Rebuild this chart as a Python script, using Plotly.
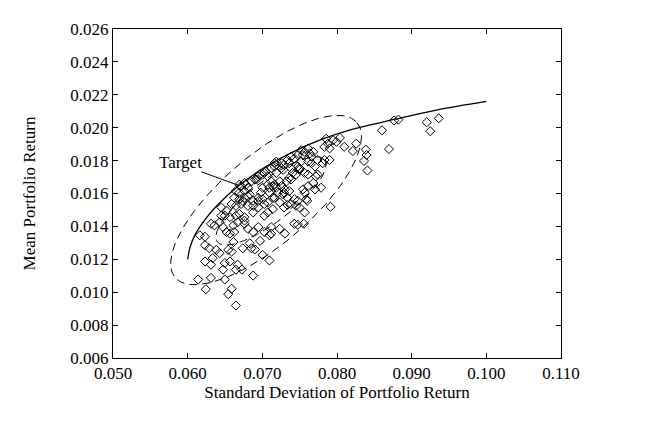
import numpy as np
import plotly.graph_objects as go

# Scatter of sampled portfolios (std dev, mean return)
sd = [0.09363, 0.09202, 0.09248, 0.08603, 0.08765, 0.08822, 0.08696, 0.08258, 0.08212, 0.08385,
      0.08396, 0.08362, 0.08408, 0.07855, 0.07947, 0.08039, 0.07993, 0.08097, 0.07878, 0.07832,
      0.07901, 0.07521, 0.07567, 0.07613, 0.07544, 0.07475, 0.07636, 0.07659, 0.07429, 0.07383,
      0.07337, 0.07360, 0.07291, 0.07256, 0.07164, 0.07118, 0.07187, 0.07279, 0.07406, 0.07498,
      0.07475, 0.07659, 0.07613, 0.07740, 0.07809, 0.07832, 0.07901, 0.07740, 0.07705, 0.07072,
      0.07682, 0.07613, 0.07682, 0.07705, 0.07590, 0.07567, 0.07475, 0.07498, 0.07383, 0.07337,
      0.07360, 0.07291, 0.07256, 0.07233, 0.07326, 0.07383, 0.07452, 0.07118, 0.07164, 0.07095,
      0.07210, 0.07164, 0.07233, 0.07291, 0.06980, 0.07003, 0.07072, 0.06946, 0.06923, 0.06969,
      0.07026, 0.07256, 0.06854, 0.06784, 0.06715, 0.06761, 0.06692, 0.06807, 0.06738, 0.06877,
      0.06692, 0.06761, 0.06807, 0.06646, 0.06623, 0.06692, 0.06761, 0.06831, 0.06900, 0.06946,
      0.07003, 0.07049, 0.07164, 0.07187, 0.06589, 0.06646, 0.06715, 0.06807, 0.06877, 0.06946,
      0.07026, 0.07003, 0.07072, 0.07095, 0.07141, 0.06520, 0.06451, 0.06566, 0.06646, 0.06761,
      0.07072, 0.07141, 0.06451, 0.06497, 0.06428, 0.06359, 0.06312, 0.06474, 0.06612, 0.06669,
      0.06761, 0.06520, 0.06566, 0.06623, 0.06163, 0.06232, 0.06612, 0.06232, 0.06289, 0.06382,
      0.06428, 0.06543, 0.06589, 0.06738, 0.06232, 0.06335, 0.06312, 0.06497, 0.06474, 0.06566,
      0.06669, 0.06646, 0.06497, 0.06312, 0.06140, 0.06243, 0.06543, 0.06589, 0.06646, 0.06727,
      0.06877, 0.06831, 0.06900, 0.06969, 0.07003, 0.07095, 0.07026, 0.06877, 0.07118, 0.07095,
      0.07233, 0.07303, 0.07429, 0.07475, 0.07556, 0.07567, 0.07602, 0.07913, 0.06946, 0.07337,
      0.07452, 0.06692, 0.06761, 0.06807, 0.06877, 0.06946, 0.07026, 0.07118, 0.06854, 0.07786,
      0.07717, 0.07613, 0.07544, 0.07429, 0.07279, 0.07303, 0.07187, 0.07141, 0.07360, 0.07498,
      0.07567, 0.07383, 0.07521]
mean = [0.02057, 0.02033, 0.01979, 0.01984, 0.02044, 0.02049, 0.01870, 0.01903, 0.01858, 0.01867,
        0.01834, 0.01798, 0.01740, 0.01933, 0.01924, 0.01938, 0.01914, 0.01884, 0.01903, 0.01884,
        0.01874, 0.01863, 0.01853, 0.01874, 0.01834, 0.01834, 0.01844, 0.01824, 0.01813, 0.01824,
        0.01804, 0.01784, 0.01774, 0.01754, 0.01784, 0.01754, 0.01725, 0.01744, 0.01725, 0.01744,
        0.01764, 0.01784, 0.01794, 0.01804, 0.01784, 0.01804, 0.01804, 0.01715, 0.01764, 0.01704,
        0.01853, 0.01715, 0.01664, 0.01625, 0.01565, 0.01605, 0.01555, 0.01515, 0.01536, 0.01574,
        0.01615, 0.01605, 0.01645, 0.01674, 0.01674, 0.01685, 0.01715, 0.01674, 0.01654, 0.01635,
        0.01605, 0.01574, 0.01545, 0.01515, 0.01605, 0.01565, 0.01545, 0.01574, 0.01685, 0.01715,
        0.01725, 0.01784, 0.01674, 0.01654, 0.01645, 0.01615, 0.01605, 0.01584, 0.01555, 0.01525,
        0.01654, 0.01664, 0.01635, 0.01615, 0.01574, 0.01565, 0.01574, 0.01595, 0.01685, 0.01704,
        0.01715, 0.01734, 0.01764, 0.01794, 0.01536, 0.01525, 0.01536, 0.01525, 0.01555, 0.01555,
        0.01536, 0.01635, 0.01654, 0.01605, 0.01574, 0.01496, 0.01465, 0.01456, 0.01465, 0.01456,
        0.01485, 0.01505, 0.01515, 0.01465, 0.01425, 0.01406, 0.01416, 0.01396, 0.01406, 0.01425,
        0.01435, 0.01366, 0.01356, 0.01366, 0.01346, 0.01337, 0.01305, 0.01286, 0.01267, 0.01257,
        0.01237, 0.01257, 0.01247, 0.01267, 0.01187, 0.01207, 0.01167, 0.01177, 0.01137, 0.01187,
        0.01167, 0.01137, 0.01077, 0.01087, 0.01077, 0.01018, 0.00988, 0.01021, 0.00919, 0.01137,
        0.01101, 0.01297, 0.01260, 0.01312, 0.01227, 0.01193, 0.01465, 0.01485, 0.01356, 0.01346,
        0.01385, 0.01356, 0.01416, 0.01410, 0.01416, 0.01485, 0.01555, 0.01519, 0.01515, 0.01531,
        0.01525, 0.01476, 0.01416, 0.01385, 0.01366, 0.01396, 0.01366, 0.01396, 0.01267, 0.01635,
        0.01704, 0.01645, 0.01625, 0.01565, 0.01595, 0.01625, 0.01635, 0.01645, 0.01695, 0.01754,
        0.01725, 0.01754, 0.01794]

# Frontier curve
frontier_sd = [0.0600, 0.0603, 0.0610, 0.0623, 0.0640, 0.0669, 0.0700, 0.0740, 0.0780,
               0.0820, 0.0876, 0.0936, 0.1000]
frontier_mean = [0.0120, 0.0127, 0.0135, 0.0144, 0.0153, 0.0165, 0.0175, 0.0185, 0.0193,
                 0.0199, 0.0205, 0.0211, 0.0216]

# Confidence ellipses: center and two conjugate semi-axis vectors (data units)
outer_center = [0.0705, 0.0156]
outer_u = [0.01220, 0.00470]
outer_v = [0.00380, -0.00210]
inner_center = [0.07115, 0.01555]
inner_u = [0.00717, 0.00250]
inner_v = [0.00173, -0.00098]

x_ticks = [0.05, 0.06, 0.07, 0.08, 0.09, 0.10, 0.11]
y_ticks = [0.006, 0.008, 0.010, 0.012, 0.014, 0.016, 0.018, 0.020, 0.022, 0.024, 0.026]

FONT = "Liberation Serif"
FS = 17


def ellipse(c, u, v, n=200):
    t = np.linspace(0, 2 * np.pi, n)
    x = c[0] + u[0] * np.cos(t) + v[0] * np.sin(t)
    y = c[1] + u[1] * np.cos(t) + v[1] * np.sin(t)
    return x, y


fig = go.Figure()

fig.add_trace(go.Scatter(
    x=sd, y=mean, mode="markers",
    marker=dict(symbol="diamond-open", size=7, color="black", line=dict(width=1, color="black")),
    showlegend=False, hoverinfo="skip"))

fig.add_trace(go.Scatter(
    x=frontier_sd, y=frontier_mean, mode="lines",
    line=dict(color="black", width=1.3, shape="spline", smoothing=0.8),
    showlegend=False, hoverinfo="skip"))

for c, u, v in [(outer_center, outer_u, outer_v), (inner_center, inner_u, inner_v)]:
    ex, ey = ellipse(c, u, v)
    fig.add_trace(go.Scatter(
        x=ex, y=ey, mode="lines",
        line=dict(color="black", width=1, dash="8px,5px"),
        showlegend=False, hoverinfo="skip"))

fig.add_annotation(x=0.05904, y=0.01789, text="Target", showarrow=False,
                   font=dict(family=FONT, size=FS, color="black"))
fig.add_annotation(x=0.06692, y=0.01648, ax=0.06163, ay=0.01735, axref="x", ayref="y",
                   text="", showarrow=True, arrowhead=0, arrowwidth=1, arrowcolor="black")

axis_common = dict(
    showline=True, linecolor="black", linewidth=1, mirror="ticks",
    ticks="inside", ticklen=5, tickcolor="black", tickwidth=1,
    showgrid=False, zeroline=False,
    tickfont=dict(family=FONT, size=FS, color="black"),
)

fig.update_xaxes(range=[0.05, 0.11], tickvals=x_ticks, tickformat=".3f",
                 title=dict(text="Standard Deviation of Portfolio Return",
                            font=dict(family=FONT, size=FS, color="black"), standoff=0),
                 **axis_common)
fig.update_yaxes(range=[0.006, 0.026], tickvals=y_ticks, tickformat=".3f",
                 title=dict(text="Mean Portfolio Return",
                            font=dict(family=FONT, size=FS, color="black"), standoff=30),
                 **axis_common)

fig.update_layout(
    width=662, height=430,
    margin=dict(l=105, r=109, t=15, b=80),
    paper_bgcolor="white", plot_bgcolor="white",
    font=dict(family=FONT, size=FS, color="black"),
)

fig.write_html("out.html")
